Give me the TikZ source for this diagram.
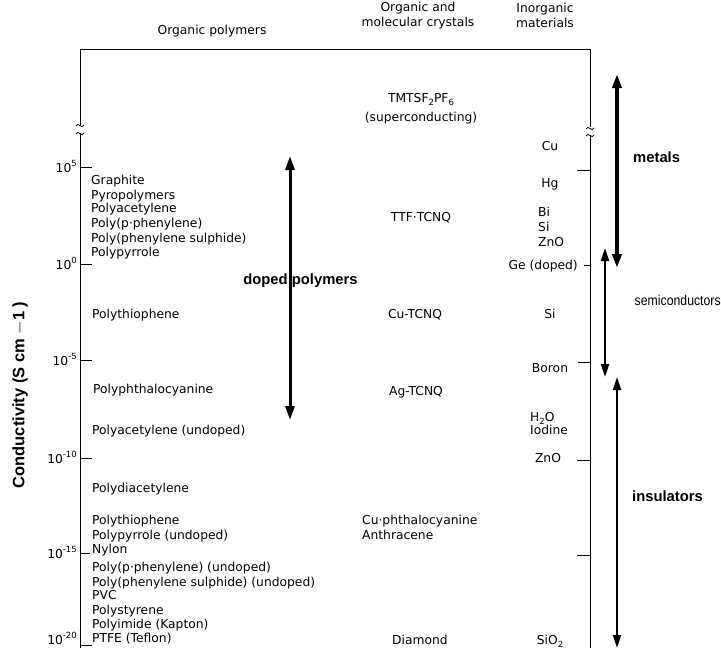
\documentclass[tikz,border=0pt]{standalone}
\usepackage{fontspec}
\setmainfont{DejaVu Sans}
\newfontfamily\helv{Liberation Sans}
\usetikzlibrary{arrows.meta}
\newcommand{\supx}[1]{\raisebox{0.85ex}{\fontsize{8.5}{9}\selectfont #1}}
\newcommand{\subx}[1]{\raisebox{-0.45ex}{\fontsize{8.5}{9}\selectfont #1}}
\begin{document}
\begin{tikzpicture}[x=1pt,y=-1pt,
  txt/.style={inner sep=0pt, font=\fontsize{12.3}{15}\selectfont},
  lft/.style={txt, anchor=base west},
  ctr/.style={txt, anchor=base},
  rgt/.style={txt, anchor=base east},
  hdr/.style={inner sep=0pt, anchor=base, align=center, font=\fontsize{12.3}{15}\selectfont},
  boldlab/.style={inner sep=0pt, anchor=base west, font=\helv\bfseries\fontsize{14.8}{16}\selectfont},
  frame/.style={line width=0.8pt},
  rangearrow/.style={line width=3pt, {Triangle[length=14pt,width=9pt]}-{Triangle[length=14pt,width=9pt]}},
  thinarrow/.style={line width=2.2pt, {Triangle[length=13pt,width=8pt]}-{Triangle[length=13pt,width=8pt]}}
]
\useasboundingbox (0,0) rectangle (721,648);

% headers
\node[hdr] (hOP) at (212,34) {Organic polymers};
\node[hdr] (hOM) at (418,26) {Organic and\\molecular crystals};
\node[hdr] (hIM) at (545,27) {Inorganic\\materials};

% frame
\draw[frame] (80,125) -- (80,49) -- (590,49) -- (590,127);
\draw[frame] (80,133) -- (80,648);
\draw[frame] (590,135) -- (590,648);
% breaks
\draw[frame] (76,126) .. controls (78,121) and (82,130) .. (84,125);
\draw[frame] (76,134) .. controls (78,129) and (82,138) .. (84,133);
\draw[frame] (586,129) .. controls (588,124) and (592,133) .. (594,128);
\draw[frame] (586,136) .. controls (588,131) and (592,140) .. (594,135);

% left ticks
\draw[frame] (80,167) -- (92,167);
\draw[frame] (80,264) -- (92,264);
\draw[frame] (80,360) -- (92,360);
\draw[frame] (80,458) -- (92,458);
\draw[frame] (80,553) -- (90,553);
\draw[frame] (80,645) -- (92,645);
% right ticks
\draw[frame] (577,170) -- (590,170);
\draw[frame] (584,265) -- (590,265);
\draw[frame] (578,362) -- (590,362);
\draw[frame] (577,460) -- (590,460);
\draw[frame] (577,555) -- (590,555);

% tick labels
\node[rgt] (t5)  at (77,172) {10\supx{5}};
\node[rgt] (t0)  at (77,269) {10\supx{0}};
\node[rgt] (tm5) at (77,365) {10\supx{-5}};
\node[rgt] (tm10) at (77,463) {10\supx{-10}};
\node[rgt] (tm15) at (77,558) {10\supx{-15}};
\node[rgt] (tm20) at (77,644) {10\supx{-20}};

% axis label
\node[inner sep=0pt, rotate=90, font=\helv\bfseries\fontsize{16.5}{18}\selectfont] (ylab) at (20,395) {Conductivity (S cm $-$1 )};

% organic polymers
\node[lft] (p1) at (91,184) {Graphite};
\node[lft] (p2) at (91,199) {Pyropolymers};
\node[lft] (p3) at (91,212) {Polyacetylene};
\node[lft] (p4) at (91,227) {Poly(p·phenylene)};
\node[lft] (p5) at (91,242) {Poly(phenylene sulphide)};
\node[lft] (p6) at (91,256) {Polypyrrole};
\node[lft] (p7) at (92,318) {Polythiophene};
\node[lft] (p8) at (93,393) {Polyphthalocyanine};
\node[lft] (p9) at (92,434) {Polyacetylene (undoped)};
\node[lft] (p10) at (92,492) {Polydiacetylene};
\node[lft] (p11) at (92,524) {Polythiophene};
\node[lft] (p12) at (92,539) {Polypyrrole (undoped)};
\node[lft] (p13) at (92,553) {Nylon};
\node[lft] (p14) at (92,571) {Poly(p·phenylene) (undoped)};
\node[lft] (p15) at (92,586) {Poly(phenylene sulphide) (undoped)};
\node[lft] (p16) at (92,599) {PVC};
\node[lft] (p17) at (92,614) {Polystyrene};
\node[lft] (p18) at (92,628) {Polyimide (Kapton)};
\node[lft] (p19) at (92,642) {PTFE (Teflon)};

% organic and molecular crystals
\node[ctr] (m1) at (421,102) {TMTSF\subx{2}PF\subx{6}};
\node[ctr] (m2) at (421,121) {(superconducting)};
\node[ctr] (m3) at (421,221) {TTF·TCNQ};
\node[ctr] (m4) at (415,318) {Cu-TCNQ};
\node[ctr] (m5) at (416,395) {Ag-TCNQ};
\node[lft] (m6) at (362,524) {Cu·phthalocyanine};
\node[lft] (m7) at (362,539) {Anthracene};
\node[ctr] (m8) at (420,644) {Diamond};

% inorganic materials
\node[ctr] (i1) at (550,150) {Cu};
\node[ctr] (i2) at (550,187) {Hg};
\node[lft] (i3) at (538,216) {Bi};
\node[lft] (i4) at (538,231) {Si};
\node[lft] (i5) at (538,246) {ZnO};
\node[rgt] (i6) at (578,269) {Ge (doped)};
\node[ctr] (i7) at (550,318) {Si};
\node[ctr] (i8) at (550,372) {Boron};
\node[lft] (i9) at (530,421) {H\subx{2}O};
\node[lft] (i10) at (530,434) {Iodine};
\node[ctr] (i11) at (548,462) {ZnO};
\node[ctr] (i12) at (550,644) {SiO\subx{2}};

% range arrows
\coordinate (dpT) at (290,156);
\coordinate (dpB) at (290,420);
\coordinate (meT) at (617,74);
\coordinate (meB) at (617,268);
\coordinate (scT) at (605,248);
\coordinate (scB) at (605,377);
\coordinate (inT) at (617,377);
\coordinate (inB) at (617,648);
\draw[rangearrow] (dpT) -- (dpB);
\draw[rangearrow, line width=3.6pt] (meT) -- (meB);
\draw[thinarrow] (scT) -- (scB);
\draw[thinarrow] (inT) -- (inB);

\node[boldlab, anchor=base] (lDP) at (300.5,284) {doped polymers};
\node[boldlab] (lME) at (633,162) {metals};
\node[inner sep=0pt, anchor=base west, font=\helv\fontsize{14.2}{15}\selectfont] (lSC) at (634.5,305) {\scalebox{0.865}[1]{semiconductors}};
\node[boldlab] (lIN) at (632,501) {insulators};
\end{tikzpicture}
\end{document}
